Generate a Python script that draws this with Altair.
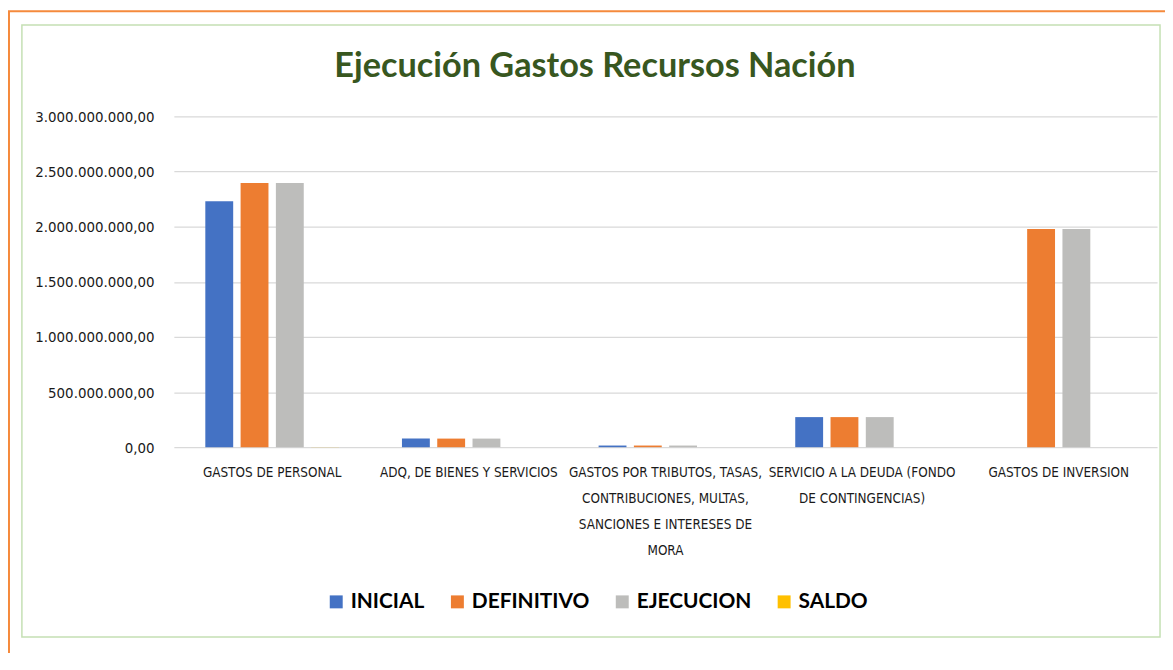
import altair as alt
import pandas as pd

categories = [
    "GASTOS DE PERSONAL",
    "ADQ, DE BIENES Y SERVICIOS",
    "GASTOS POR TRIBUTOS, TASAS, CONTRIBUCIONES, MULTAS, SANCIONES E INTERESES DE MORA",
    "SERVICIO A LA DEUDA (FONDO DE CONTINGENCIAS)",
    "GASTOS DE INVERSION",
]
wrapped_labels = [
    ["GASTOS DE PERSONAL"],
    ["ADQ, DE BIENES Y SERVICIOS"],
    ["GASTOS POR TRIBUTOS, TASAS,", "CONTRIBUCIONES, MULTAS,", "SANCIONES E INTERESES DE", "MORA"],
    ["SERVICIO A LA DEUDA (FONDO", "DE CONTINGENCIAS)"],
    ["GASTOS DE INVERSION"],
]
series = ["INICIAL", "DEFINITIVO", "EJECUCION", "SALDO"]
inicial = [2230000000, 78000000, 15000000, 273000000, 0]
definitivo = [2397000000, 78000000, 15000000, 273000000, 1980000000]
ejecucion = [2396000000, 78000000, 15000000, 273000000, 1980000000]
saldo = [1000000, 0, 0, 0, 0]
colors = ["#4472C4", "#ED7D31", "#BDBDBB", "#FFC000"]
y_ticks = [0, 500000000, 1000000000, 1500000000, 2000000000, 2500000000, 3000000000]
title_text = "Ejecución Gastos Recursos Nación"

rows = []
for s, vals in zip(series, [inicial, definitivo, ejecucion, saldo]):
    for c, v in zip(categories, vals):
        rows.append({"categoria": c, "serie": s, "valor": v})
df = pd.DataFrame(rows)

parts = []
for c, lines in zip(categories, wrapped_labels):
    arr = "[" + ",".join("'" + l + "'" for l in lines) + "]"
    parts.append(f"datum.value == '{c}' ? {arr}")
x_label_expr = " : ".join(parts) + " : datum.value"

y_label_expr = (
    "replace(replace(replace(format(datum.value, ',.2f'), regexp(',', 'g'), '_'),"
    " regexp('\\\\.', 'g'), ','), regexp('_', 'g'), '.')"
)

COND = "DejaVu Sans Condensed, Roboto Condensed, Roboto"
PL, PT = 167, 107  # padding -> plot origin at (175,115) on page
W, H = 990, 333

bars = alt.Chart(df).mark_bar().encode(
    x=alt.X(
        "categoria:N",
        sort=categories,
        scale=alt.Scale(paddingInner=0.32, paddingOuter=0.16),
        axis=alt.Axis(
            title=None,
            labelAngle=0,
            labelExpr=x_label_expr,
            labelFont=COND,
            labelFontSize=13.5,
            labelColor="#1a1a1a",
            labelPadding=19,
            labelLineHeight=26,
            labelBaseline="top",
            labelLimit=0,
            ticks=False,
            domain=False,
            grid=False,
        ),
    ),
    xOffset=alt.XOffset(
        "serie:N",
        sort=series,
        scale=alt.Scale(paddingInner=0.21, paddingOuter=0),
    ),
    y=alt.Y(
        "valor:Q",
        scale=alt.Scale(domain=[0, 3000000000], nice=False),
        axis=alt.Axis(
            title=None,
            values=y_ticks,
            labelExpr=y_label_expr,
            labelFont=COND,
            labelFontSize=15,
            labelColor="#1a1a1a",
            labelPadding=20,
            labelLimit=0,
            ticks=False,
            domain=False,
            grid=True,
            gridColor="#D9D9D9",
            gridWidth=1.3,
        ),
    ),
    color=alt.Color(
        "serie:N",
        sort=series,
        scale=alt.Scale(domain=series, range=colors),
        legend=alt.Legend(
            title=None,
            orient="none",
            direction="horizontal",
            legendX=153,
            legendY=478,
            symbolType="square",
            symbolSize=170,
            symbolStrokeWidth=0,
            labelFont="Lato",
            labelFontWeight="bold",
            labelFontSize=21,
            labelColor="#000000",
            labelOffset=4,
            columnPadding=22,
        ),
    ),
)

one = pd.DataFrame({"k": [0]})
title_df = pd.DataFrame({"t": [title_text]})
orange = "#F58A3C"
green = "#C5E0B4"
frame_top = alt.Chart(one).mark_rule(color=orange, strokeWidth=2).encode(
    x=alt.value(-PL), x2=alt.value(W + 10), y=alt.value(-PT + 1)
)
frame_left = alt.Chart(one).mark_rule(color=orange, strokeWidth=2).encode(
    x=alt.value(-PL + 1), y=alt.value(-PT + 1), y2=alt.value(H + 210)
)
box = alt.Chart(one).mark_rect(fill=None, stroke=green, strokeWidth=1.5).encode(
    x=alt.value(22 - 175), x2=alt.value(1168 - 175),
    y=alt.value(23 - 115), y2=alt.value(639 - 115),
)
title = alt.Chart(title_df).mark_text(
    font="Lato", fontWeight="bold", fontSize=34.5, color="#38571F",
    align="center", baseline="alphabetic",
).encode(text="t:N", x=alt.value(599 - 175), y=alt.value(75 - 115))

chart = alt.layer(frame_top, frame_left, box, title, bars).properties(
    width=W,
    height=H,
    autosize=alt.AutoSizeParams(type="none"),
    padding={"left": PL, "top": PT, "right": 8, "bottom": 205},
).configure_view(stroke=None)

chart.save("out.html", embed_options={"renderer": "svg", "actions": False})
